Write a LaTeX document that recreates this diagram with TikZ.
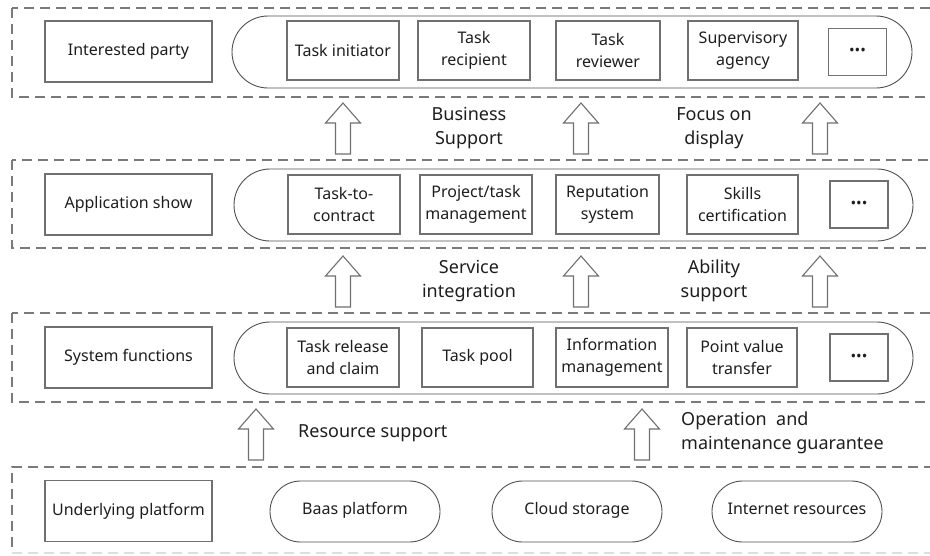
\documentclass[tikz,border=0pt]{standalone}
\usepackage{fontspec}
\setmainfont{Noto Sans}
\definecolor{boxline}{HTML}{707070}
\definecolor{pillline}{HTML}{505050}
\definecolor{dashline}{HTML}{7A7A7A}
\definecolor{txt}{HTML}{1E1E1E}
\tikzset{
  layer/.style={draw=dashline, line width=1.3pt, dash pattern=on 10pt off 6pt},
  labelbox/.style={draw=boxline, line width=1.2pt, minimum width=167pt, minimum height=61pt,
    inner sep=0pt, align=center, text=txt},
  band/.style={draw=pillline, line width=0.9pt, rounded corners=36pt, minimum height=72pt,
    inner sep=0pt},
  itembox/.style={draw=boxline, line width=1.2pt, minimum height=59pt, inner sep=0pt,
    align=center, text=txt},
  morebox/.style={draw=boxline, line width=1.2pt, minimum width=58pt, minimum height=47pt,
    inner sep=0pt, text=txt, font=\fontsize{15}{15}\selectfont},
  basepill/.style={draw=pillline, line width=0.9pt, rounded corners=30.5pt, minimum width=170pt,
    minimum height=61pt, inner sep=0pt, text=txt, text height=0.75em, text depth=0.25em},
  flowtext/.style={text=txt, align=center, inner sep=0pt,
    font=\fontsize{18}{24.5}\selectfont},
  uparr/.pic={\draw[draw=boxline, line width=1.1pt, fill=white]
    (-7.5,0) -- (-7.5,-31) -- (-17.5,-31) -- (0,-51) -- (17.5,-31) -- (7.5,-31) -- (7.5,0) -- cycle;}
}
\begin{document}
\begin{tikzpicture}[x=1pt, y=-1pt, font=\fontsize{16}{22}\selectfont]
\useasboundingbox (0,0) rectangle (930,555);
\clip (0,0) rectangle (930,555);

% four dashed layers, open to the right
\draw[layer] (12,8) rectangle (950,97);
\draw[layer] (12,160) rectangle (950,248);
\draw[layer] (12,313) rectangle (950,402);
\draw[layer] (950,467) -- (12,467) -- (12,553);
\draw[layer, draw=dashline!25] (12,553) -- (950,553);

% layer titles
\node[labelbox] (party) at (128.5,51.5) {Interested party};
\node[labelbox] (appshow) at (128.5,204.5) {Application show};
\node[labelbox] (sysfun) at (128.5,357.5) {System functions};
\node[labelbox] (platform) at (128.5,511) {Underlying platform};

% rounded bands holding the items
\node[band, minimum width=680pt] (band1) at (572,52) {};
\node[band, minimum width=679pt] (band2) at (573.5,205) {};
\node[band, minimum width=679pt] (band3) at (573.5,358) {};

% interested parties
\node[itembox, minimum width=112pt] (initiator) at (343,50.5) {Task initiator};
\node[itembox, minimum width=112pt] (recipient) at (474,50.5) {Task\\recipient};
\node[itembox, minimum width=104pt] (reviewer) at (608,50.5) {Task\\reviewer};
\node[itembox, minimum width=110pt] (agency) at (743,50.5) {Supervisory\\agency};
\node[morebox] (more1) at (857.5,52) {•••};

% applications
\node[itembox, minimum width=112pt] (contract) at (344,204.5) {Task-to-\\contract};
\node[itembox, minimum width=112pt] (project) at (476,204.5) {Project/task\\management};
\node[itembox, minimum width=103pt] (reputation) at (607.5,204.5) {Reputation\\system};
\node[itembox, minimum width=111pt] (skills) at (742.5,204.5) {Skills\\certification};
\node[morebox] (more2) at (859,204.5) {•••};

% system functions
\node[itembox, minimum width=112pt] (release) at (343,357.5) {Task release\\and claim};
\node[itembox, minimum width=111pt] (pool) at (477.5,357.5) {Task pool};
\node[itembox, minimum width=112pt] (info) at (612,357.5) {Information\\management};
\node[itembox, minimum width=110pt] (points) at (742,357.5) {Point value\\transfer};
\node[morebox] (more3) at (859,357.5) {•••};

% underlying resources
\node[basepill] (baas) at (355,511.5) {Baas platform};
\node[basepill] (cloud) at (577,511.5) {Cloud storage};
\node[basepill] (internet) at (797,511.5) {Internet resources};

% hollow arrows between layers
\pic at (343,154) {uparr};
\pic at (581,154) {uparr};
\pic at (820,154) {uparr};
\pic at (343,307) {uparr};
\pic at (581,307) {uparr};
\pic at (820,307) {uparr};
\pic at (256,460) {uparr};
\pic at (642,460) {uparr};

% arrow captions
\node[flowtext] (business) at (469,128) {Business\\Support};
\node[flowtext] (focus) at (714,128) {Focus on\\display};
\node[flowtext] (service) at (469,281) {Service\\integration};
\node[flowtext] (ability) at (714,281) {Ability\\support};
\node[flowtext, anchor=west] (resource) at (298,433) {Resource support};
\node[flowtext, anchor=west, align=left] (operation) at (681,433) {Operation\ \ and\\maintenance guarantee};
\end{tikzpicture}
\end{document}
